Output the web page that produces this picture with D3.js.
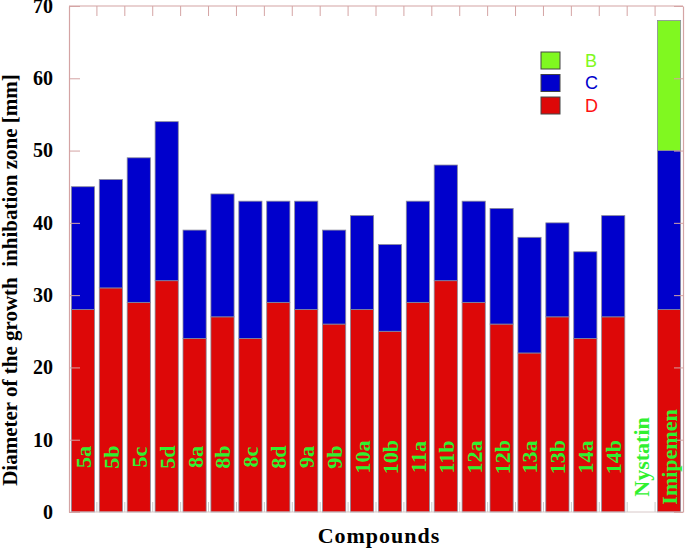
<!DOCTYPE html>
<html>
<head>
<meta charset="utf-8">
<script src="https://cdn.jsdelivr.net/npm/d3@7"></script>
<style>
body{margin:0;background:#fff}
svg{display:block}
</style>
</head>
<body>
<div id="chart"></div>
<script>
var categories = ["5a","5b","5c","5d","8a","8b","8c","8d","9a","9b","10a","10b","11a","11b","12a","12b","13a","13b","14a","14b","Nystatin","Imipemen"]
// segment heights (stacked D -> C -> B)
var dValues = [28,31,29,32,24,27,24,29,28,26,28,25,29,32,29,26,22,27,24,27,0,28]
var cValues = [17,15,20,22,15,17,19,14,15,13,13,12,14,16,14,16,16,13,12,14,0,22]
var bValues = [0,0,0,0,0,0,0,0,0,0,0,0,0,0,0,0,0,0,0,0,0,18]
var yTicks = [0,10,20,30,40,50,60,70]
var legendKeys = ["B","C","D"]

var colors = {B:"#80f820",C:"#0000cc",D:"#dd0808"}
var textColors = {B:"#80f820",C:"#0000cc",D:"#ff1010"}
var frameColor = "#d4a4a4"

var width = 685, height = 549
var plotLeft = 69, plotRight = 683, plotTop = 6, plotBottom = 512

var svg = d3.select("#chart").append("svg").attr("width",width).attr("height",height)

var x = d3.scaleBand().domain(categories).range([plotLeft,plotRight]).paddingInner(0.17).paddingOuter(0.085)
var y = d3.scaleLinear().domain([0,70]).range([plotBottom,plotTop])

var rows = categories.map(function(c,i){
    return {cat:c,D:dValues[i],C:cValues[i],B:bValues[i]}
})
var stack = d3.stack().keys(["D","C","B"])(rows)

// bars
svg.selectAll(".layer")
    .data(stack)
    .enter().append("g")
    .attr("class","layer")
    .attr("fill",function(d){ return colors[d.key] })
    .selectAll("rect")
    .data(function(d){ return d.filter(function(v){ return v[1]>v[0] }) })
    .enter().append("rect")
    .attr("x",function(d){ return x(d.data.cat) })
    .attr("width",x.bandwidth())
    .attr("y",function(d){ return y(d[1]) })
    .attr("height",function(d){ return y(d[0])-y(d[1]) })
    .attr("stroke","#8a8a9a")
    .attr("stroke-width",0.8)

// category boundaries
var step = x.step()
var gap = step - x.bandwidth()
var bounds = categories.slice(1).map(function(c){ return x(c)-gap/2 })

svg.selectAll(".ttick").data(bounds).enter().append("line")
    .attr("x1",function(d){ return d }).attr("x2",function(d){ return d })
    .attr("y1",plotTop).attr("y2",plotTop+10)
    .attr("stroke",frameColor).attr("stroke-width",1)
svg.selectAll(".btick").data(bounds).enter().append("line")
    .attr("x1",function(d){ return d }).attr("x2",function(d){ return d })
    .attr("y1",plotBottom).attr("y2",plotBottom-10)
    .attr("stroke","#c8c8c8").attr("stroke-width",1)

// frame
svg.append("line").attr("x1",plotLeft).attr("x2",plotRight).attr("y1",plotTop).attr("y2",plotTop)
    .attr("stroke",frameColor).attr("stroke-width",1.2)
svg.append("line").attr("x1",plotLeft).attr("x2",plotRight).attr("y1",plotBottom).attr("y2",plotBottom)
    .attr("stroke","#d8c8c8").attr("stroke-width",1)

// left axis
var yAxis = d3.axisLeft(y).tickValues(yTicks).tickSizeInner(-11).tickSizeOuter(0).tickPadding(16)
var gy = svg.append("g").attr("transform","translate("+plotLeft+",0)").call(yAxis)
gy.select(".domain").attr("stroke",frameColor).attr("stroke-width",1.2)
gy.selectAll(".tick line").attr("stroke",frameColor)
gy.selectAll(".tick text")
    .attr("font-family","'Liberation Serif',serif")
    .attr("font-weight","bold")
    .attr("font-size",20)
    .attr("fill","#000")

// right axis
var yAxisR = d3.axisRight(y).tickValues(yTicks).tickSizeInner(-9).tickSizeOuter(0).tickFormat("")
var gr = svg.append("g").attr("transform","translate("+plotRight+",0)").call(yAxisR)
gr.select(".domain").attr("stroke",frameColor).attr("stroke-width",1.2)
gr.selectAll(".tick line").attr("stroke",frameColor)

// category labels inside bars
svg.selectAll(".clabel").data(categories).enter().append("text")
    .attr("transform",function(d){ return "translate("+(x(d)+x.bandwidth()/2)+",457) rotate(-90)" })
    .attr("text-anchor","middle")
    .attr("dy","0.36em")
    .attr("font-family","'Liberation Serif',serif")
    .attr("font-weight","bold")
    .attr("font-size",22)
    .attr("fill","#30f030")
    .text(function(d){ return d })

// axis titles
svg.append("text")
    .attr("transform","translate(17,280) rotate(-90)")
    .attr("text-anchor","middle")
    .attr("font-family","'Liberation Serif',serif")
    .attr("font-weight","bold")
    .attr("font-size",21)
    .style("white-space","pre")
    .text("Diameter of the growth  inhibation zone [mm]")

svg.append("text")
    .attr("x",379).attr("y",543)
    .attr("text-anchor","middle")
    .attr("font-family","'Liberation Serif',serif")
    .attr("font-weight","bold")
    .attr("font-size",22)
    .attr("letter-spacing",1)
    .text("Compounds")

// legend
var legend = svg.selectAll(".legend").data(legendKeys).enter().append("g")
    .attr("transform",function(d,i){ return "translate(541,"+(52+i*22.5)+")" })
legend.append("rect")
    .attr("width",19).attr("height",17)
    .attr("fill",function(d){ return colors[d] })
    .attr("stroke","#444").attr("stroke-width",1)
legend.append("text")
    .attr("x",44).attr("y",8.5).attr("dy","0.36em")
    .attr("font-family","'Liberation Sans',Arial,sans-serif")
    .attr("font-size",18)
    .attr("fill",function(d){ return textColors[d] })
    .text(function(d){ return d })
</script>
</body>
</html>
